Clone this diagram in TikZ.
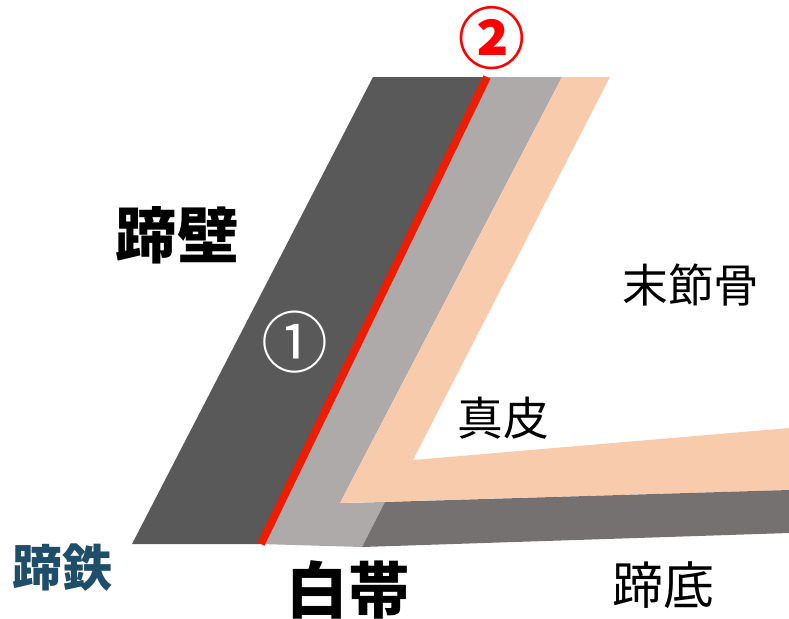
\documentclass[tikz,border=0pt]{standalone}
\usepackage{fontspec}
\usepackage{xcolor}
\usepackage{tikz}
\newfontfamily\jpfont{Noto Sans CJK JP}
\definecolor{wall}{HTML}{595959}
\definecolor{whiteline}{HTML}{AEAAAA}
\definecolor{dermis}{HTML}{F8CBAD}
\definecolor{sole}{HTML}{767171}
\definecolor{redline}{HTML}{EE1C00}
\definecolor{shoe}{HTML}{1F4E6B}

\begin{document}
\begin{tikzpicture}[
    x=0.01cm, y=-0.01cm,
    every node/.style={inner sep=0pt},
    lbl/.style={font=\jpfont\fontsize{13}{15}\selectfont, text=black},
    biglbl/.style={font=\jpfont\bfseries\fontsize{17.5}{20}\selectfont, text=black},
    num/.style={font=\jpfont\fontsize{19}{21}\selectfont},
]
    \useasboundingbox (0,0) rectangle (789,618);

    % corner points
    \coordinate (wtl) at (373,77);
    \coordinate (wtr) at (487,77);
    \coordinate (wbr) at (261,544);
    \coordinate (wbl) at (132,544);

    % white line (gray band)
    \fill[whiteline] (wtr) -- (562,77) -- (340,503) -- (385,502) -- (362,547) -- (wbr) -- cycle;

    % hoof wall
    \fill[wall] (wtl) -- (wtr) -- (wbr) -- (wbl) -- cycle;

    % dermis
    \fill[dermis] (562,77) -- (610,77) -- (413,460) -- (789,428) -- (789,490) -- (340,503) -- cycle;

    % sole
    \fill[sole] (385,502) -- (789,490) -- (789,533) -- (362,547) -- cycle;

    % red border line
    \draw[redline, line width=2.2pt] (wtr) -- (wbr);

    % Labels
    \node[biglbl] (wallname) at (177,235) {蹄壁};
    \node[lbl] (bone) at (691,285) {末節骨};
    \node[lbl] (dermisname) at (503,418) {真皮};
    \node[lbl, font=\jpfont\fontsize{14.5}{16}\selectfont] (solename) at (663,585) {蹄底};
    \node[biglbl] (linename) at (348,590) {白帯};
    \node[biglbl, font=\jpfont\bfseries\fontsize{14.2}{16}\selectfont, text=shoe] (shoename) at (62,568) {蹄鉄};

    % markers
    \node[num, text=white] (one) at (295,342) {①};
    \node[num, font=\jpfont\bfseries\fontsize{19}{21}\selectfont, text=red] (two) at (492,38) {②};
\end{tikzpicture}
\end{document}
